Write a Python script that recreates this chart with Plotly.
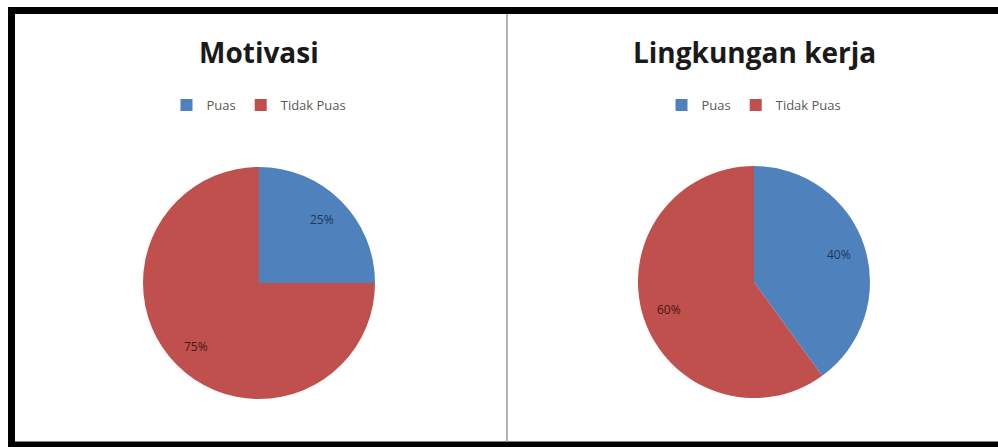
import math
import plotly.graph_objects as go

labels = ["Puas", "Tidak Puas"]
motivasi_values = [25, 75]
lingkungan_values = [40, 60]
titles = ["Motivasi", "Lingkungan kerja"]
colors = ["#4F81BD", "#C0504D"]
text_colors = ["#17375E", "#4A1513"]

W, H = 998, 447

def px_x(x):
    return x / W

def px_y(y):
    return 1 - y / H

def domain(cx, cy, r):
    return dict(x=[px_x(cx - r), px_x(cx + r)], y=[px_y(cy + r), px_y(cy - r)])

pies = [
    dict(values=motivasi_values, cx=259, cy=283, r=116, legend="legend", suffix=""),
    dict(values=lingkungan_values, cx=754, cy=282, r=116, legend="legend2", suffix="\u200b"),
]

fig = go.Figure()
annotations = []
for p in pies:
    fig.add_trace(go.Pie(
        labels=[l + p["suffix"] for l in labels], values=p["values"], sort=False,
        direction="clockwise", rotation=0,
        marker=dict(colors=colors, line=dict(width=0)),
        textinfo="none", domain=domain(p["cx"], p["cy"], p["r"]),
        legend=p["legend"], hoverinfo="label+percent",
    ))
    # percentage labels placed inside each slice (Excel-like position)
    total = sum(p["values"])
    cum = 0
    for v, tc in zip(p["values"], text_colors):
        mid = (cum + v / 2) / total * 2 * math.pi
        cum += v
        rr = p["r"] * 0.77
        x = p["cx"] + rr * math.sin(mid)
        y = p["cy"] - rr * math.cos(mid)
        annotations.append(dict(
            text="%d%%" % round(v / total * 100), x=px_x(x), y=px_y(y),
            xref="paper", yref="paper", showarrow=False,
            xanchor="center", yanchor="middle",
            font=dict(family="Open Sans", size=12, color=tc)))

for t, cx in zip(titles, [259, 754]):
    annotations.append(dict(
        text="<b>%s</b>" % t, x=px_x(cx), y=px_y(52), xref="paper", yref="paper",
        showarrow=False, xanchor="center", yanchor="middle",
        font=dict(family="Open Sans", size=28, color="#1a1a1a")))

legend_style = dict(orientation="h", xanchor="center", yanchor="middle",
                    font=dict(family="Open Sans", size=13, color="#595959"),
                    bgcolor="rgba(0,0,0,0)", itemwidth=30, tracegroupgap=0)

fig.update_layout(
    width=W, height=H, margin=dict(l=0, r=0, t=0, b=0),
    paper_bgcolor="white", plot_bgcolor="white",
    showlegend=True,
    legend=dict(x=px_x(259), y=px_y(105), **legend_style),
    legend2=dict(x=px_x(754), y=px_y(105), **legend_style),
    annotations=annotations,
    shapes=[
        dict(type="rect", xref="paper", yref="paper", x0=px_x(11.5), x1=px_x(1010),
             y0=px_y(445), y1=px_y(10.5), line=dict(color="black", width=7)),
        dict(type="line", xref="paper", yref="paper", x0=px_x(507), x1=px_x(507),
             y0=px_y(442), y1=px_y(14), line=dict(color="#9a9a9a", width=1.5)),
    ],
)

fig.write_html("out.html")
